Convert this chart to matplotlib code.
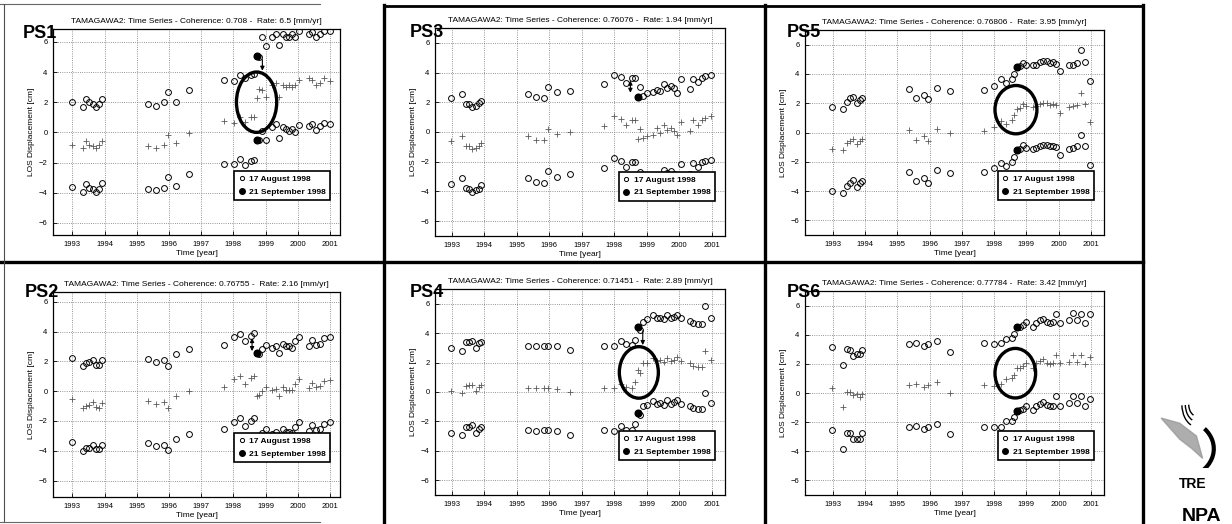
import matplotlib
matplotlib.use("Agg")
import matplotlib.pyplot as plt
from matplotlib.patches import Ellipse, Arc
from matplotlib.lines import Line2D

plt.rcParams['font.family'] = ['Liberation Sans', 'DejaVu Sans']

# acquisition dates (decimal years), shared by all six points
dates = [1992.98, 1993.32, 1993.43, 1993.53, 1993.64, 1993.74, 1993.84, 1993.92,
         1995.35, 1995.59, 1995.84, 1995.96, 1996.23, 1996.63,
         1997.70, 1998.01, 1998.22, 1998.37, 1998.55, 1998.63, 1998.72, 1998.81, 1998.90, 1999.00,
         1999.21, 1999.31, 1999.42, 1999.53, 1999.64, 1999.74, 1999.83, 1999.92, 2000.05,
         2000.34, 2000.44, 2000.58, 2000.70, 2000.81, 2000.99]
quake_date = 1998.72   # 21 September 1998

ps1_up = [1.98, 1.67, 2.22, 2.0, 1.89, 1.67, 1.89, 2.2,
          1.87, 1.76, 1.98, 2.68, 2.0, 2.79,
          3.47, 3.43, 3.82, 3.6, 3.8, 3.87, 5.05, 5.0, 6.29, 5.71,
          6.29, 6.55, 5.82, 6.5, 6.29, 6.29, 6.5, 6.29, 6.73,
          6.55, 6.66, 6.29, 6.55, 6.73, 6.73]
ps1_mid = [-0.81, -1.03, -0.6, -0.81, -0.92, -1.03, -0.86, -0.6,
           -0.92, -1.03, -0.81, -0.15, -0.7, -0.04,
           0.73, 0.62, 1.05, 0.66, 1.0, 1.05, 2.26, 2.86, 2.8, 2.33,
           3.14, 3.25, 2.37, 3.14, 3.0, 3.14, 3.0, 3.14, 3.47,
           3.58, 3.47, 3.14, 3.3, 3.58, 3.4]
ps1_low = [-3.63, -3.96, -3.45, -3.67, -3.74, -3.96, -3.74, -3.34,
           -3.74, -3.82, -3.67, -2.95, -3.56, -2.73,
           -2.07, -2.09, -1.76, -2.13, -1.87, -1.8, -0.48, -0.5, 0.11, -0.48,
           0.35, 0.57, -0.37, 0.35, 0.2, 0.11, 0.22, 0.02, 0.5,
           0.44, 0.57, 0.18, 0.4, 0.62, 0.57]

ps2_up = [2.22, 1.71, 1.89, 1.93, 2.07, 1.78, 1.78, 2.07,
          2.16, 1.98, 2.07, 1.71, 2.52, 2.83,
          3.12, 3.64, 3.84, 3.39, 3.69, 3.91, 2.56, 2.5, 2.83, 3.12,
          2.9, 3.0, 2.56, 3.17, 3.0, 3.0, 2.9, 3.35, 3.64,
          3.06, 3.42, 3.12, 3.19, 3.57, 3.64]
ps2_mid = [-0.55, -1.15, -1.0, -0.95, -0.75, -1.05, -1.1, -0.8,
           -0.65, -0.85, -0.75, -1.1, -0.35, 0.0,
           0.3, 0.8, 1.0, 0.5, 0.85, 1.0, -0.3, -0.25, 0.0, 0.25,
           0.05, 0.15, -0.3, 0.3, 0.1, 0.1, 0.05, 0.5, 0.8,
           0.2, 0.55, 0.25, 0.35, 0.7, 0.75]
ps2_low = [-3.44, -4.0, -3.84, -3.78, -3.62, -3.87, -3.87, -3.64,
           -3.51, -3.69, -3.62, -3.96, -3.19, -2.88,
           -2.56, -2.04, -1.82, -2.31, -1.98, -1.82, -3.17, -3.06, -2.83, -2.54,
           -2.85, -2.75, -3.15, -2.55, -2.75, -2.75, -2.8, -2.4, -2.1,
           -2.7, -2.3, -2.6, -2.55, -2.2, -2.1]

ps3_up = [2.27, 2.56, 1.87, 1.91, 1.66, 1.78, 1.93, 2.09,
          2.58, 2.34, 2.31, 3.06, 2.72, 2.79,
          3.21, 3.87, 3.73, 3.28, 3.66, 3.66, 2.38, 3.06, 2.43, 2.6,
          2.67, 2.83, 2.75, 3.2, 2.98, 3.1, 2.95, 2.65, 3.57,
          2.9, 3.6, 3.35, 3.66, 3.75, 3.82]
ps3_mid = [-0.6, -0.25, -0.95, -0.97, -1.15, -1.05, -0.95, -0.75,
           -0.27, -0.52, -0.55, 0.2, -0.13, -0.03,
           0.4, 1.07, 0.9, 0.5, 0.8, 0.8, -0.45, 0.2, -0.4, -0.25,
           -0.2, 0.3, -0.1, 0.5, 0.15, 0.3, 0.1, -0.2, 0.7,
           0.05, 0.8, 0.5, 0.8, 0.95, 1.05]
ps3_low = [-3.5, -3.08, -3.8, -3.84, -4.02, -3.91, -3.84, -3.57,
           -3.12, -3.39, -3.42, -2.63, -3.01, -2.85,
           -2.45, -1.78, -1.93, -2.34, -2.0, -2.05, -3.3, -2.67, -3.24, -3.1,
           -3.05, -2.9, -2.98, -2.55, -2.75, -2.65, -2.8, -3.05, -2.15,
           -2.8, -2.1, -2.35, -2.05, -1.95, -1.88]

ps4_up = [3.0, 2.77, 3.41, 3.41, 3.48, 3.0, 3.3, 3.41,
          3.11, 3.11, 3.14, 3.11, 3.11, 2.84,
          3.11, 3.11, 3.48, 3.25, 3.18, 3.52, 4.43, 4.2, 4.77, 4.93,
          5.2, 5.0, 5.05, 4.95, 5.22, 5.0, 5.1, 5.25, 5.0,
          4.82, 4.66, 4.6, 4.6, 5.86, 5.05]
ps4_mid = [0.1, -0.07, 0.4, 0.45, 0.5, 0.05, 0.35, 0.5,
           0.3, 0.25, 0.25, 0.25, 0.2, 0.0,
           0.25, 0.25, 0.55, 0.35, 0.3, 0.7, 1.5, 1.3, 1.95, 2.0,
           2.3, 2.1, 2.15, 2.05, 2.3, 2.1, 2.2, 2.35, 2.1,
           1.95, 1.75, 1.7, 1.7, 2.8, 2.2]
ps4_low = [-2.77, -2.95, -2.39, -2.39, -2.27, -2.77, -2.5, -2.39,
           -2.61, -2.66, -2.61, -2.61, -2.64, -2.89,
           -2.61, -2.64, -2.32, -2.55, -2.55, -2.2, -1.41, -1.55, -0.95, -0.9,
           -0.6, -0.8, -0.75, -0.85, -0.55, -0.8, -0.7, -0.55, -0.8,
           -0.95, -1.1, -1.15, -1.15, -0.05, -0.75]

ps5_up = [1.75, 1.6, 2.11, 2.34, 2.45, 2.04, 2.22, 2.38,
          2.99, 2.34, 2.56, 2.27, 3.06, 2.83,
          2.9, 3.17, 3.62, 3.39, 3.66, 4.02, 4.45, 4.52, 4.74, 4.63,
          4.58, 4.63, 4.79, 4.85, 4.85, 4.74, 4.79, 4.7, 4.18,
          4.61, 4.61, 4.74, 5.6, 4.83, 3.51]
ps5_mid = [-1.1, -1.2, -0.7, -0.55, -0.45, -0.8, -0.6, -0.45,
           0.18, -0.5, -0.25, -0.6, 0.25, 0.0,
           0.1, 0.4, 0.8, 0.55, 0.85, 1.2, 1.6, 1.7, 1.95, 1.8,
           1.75, 1.8, 1.95, 2.0, 2.0, 1.9, 1.95, 1.85, 1.35,
           1.75, 1.8, 1.9, 2.7, 1.95, 0.7]
ps5_low = [-3.98, -4.13, -3.64, -3.42, -3.24, -3.69, -3.46, -3.3,
           -2.67, -3.3, -3.08, -3.42, -2.58, -2.79,
           -2.72, -2.45, -2.07, -2.27, -2.0, -1.66, -1.21, -1.15, -0.88, -1.03,
           -1.1, -1.05, -0.95, -0.85, -0.85, -0.95, -0.9, -1.0, -1.55,
           -1.1, -1.05, -0.95, -0.2, -0.9, -2.2]

ps6_up = [3.16, 1.89, 3.0, 2.93, 2.55, 2.68, 2.68, 2.93,
          3.36, 3.4, 3.2, 3.36, 3.6, 2.84,
          3.4, 3.36, 3.4, 3.73, 3.77, 4.02, 4.5, 4.55, 4.66, 4.89,
          4.55, 4.77, 5.0, 5.11, 4.89, 4.77, 4.89, 5.45, 4.82,
          5.0, 5.5, 5.0, 5.45, 4.82, 5.39]
ps6_mid = [0.32, -0.95, 0.1, 0.05, -0.15, -0.1, -0.3, -0.05,
           0.55, 0.6, 0.4, 0.55, 0.75, 0.0,
           0.55, 0.5, 0.6, 0.95, 1.0, 1.25, 1.7, 1.7, 1.85, 2.05,
           1.7, 2.05, 2.2, 2.3, 2.05, 2.0, 2.05, 2.6, 2.05,
           2.15, 2.6, 2.15, 2.6, 2.0, 2.5]
ps6_low = [-2.55, -3.82, -2.73, -2.77, -3.14, -3.18, -3.18, -2.77,
           -2.32, -2.27, -2.45, -2.32, -2.11, -2.84,
           -2.32, -2.32, -2.32, -1.95, -1.89, -1.64, -1.25, -1.14, -1.07, -0.86,
           -1.14, -0.91, -0.73, -0.64, -0.8, -0.91, -0.86, -0.23, -0.91,
           -0.68, -0.18, -0.68, -0.23, -0.86, -0.39]

coherence = {'PS1': '0.708', 'PS2': '0.76755', 'PS3': '0.76076',
             'PS4': '0.71451', 'PS5': '0.76806', 'PS6': '0.77784'}
rate = {'PS1': '6.5', 'PS2': '2.16', 'PS3': '1.94',
        'PS4': '2.89', 'PS5': '3.95', 'PS6': '3.42'}
series = {'PS1': (ps1_up, ps1_mid, ps1_low), 'PS2': (ps2_up, ps2_mid, ps2_low),
          'PS3': (ps3_up, ps3_mid, ps3_low), 'PS4': (ps4_up, ps4_mid, ps4_low),
          'PS5': (ps5_up, ps5_mid, ps5_low), 'PS6': (ps6_up, ps6_mid, ps6_low)}

# highlighted zone (centre x, centre y, width, height) and arrows (x, from, to, style)
ellipses = {'PS1': (1998.72, 2.0, 1.25, 4.0), 'PS4': (1998.76, 1.33, 1.2, 3.5),
            'PS5': (1998.68, 1.56, 1.3, 3.3), 'PS6': (1998.66, 1.36, 1.26, 3.4)}
arrows = {'PS1': (1998.9, 5.0, 3.9, '-|>'), 'PS2': (1998.58, 2.5, 3.75, '<|-|>'),
          'PS3': (1998.5, 2.45, 3.65, '<|-|>'), 'PS4': (1998.88, 4.35, 3.0, '-|>')}

W, H = 1232, 524
fig = plt.figure(figsize=(W / 100, H / 100), dpi=100)

# axes boxes in pixels: left, top, right, bottom ; x/y limits ; label anchor
layout = {
    'PS1': ((53, 29, 340, 235), (1992.4, 2001.31), (-6.8, 6.85), (23, 38)),
    'PS3': ((435, 28, 725, 236), (1992.49, 2001.41), (-7, 7), (410, 37)),
    'PS5': ((805, 30, 1104, 235), (1992.14, 2001.41), (-7, 7), (787, 37)),
    'PS2': ((53, 292, 340, 497), (1992.4, 2001.31), (-7.1, 6.65), (25, 297)),
    'PS4': ((435, 289, 725, 495), (1992.49, 2001.41), (-7, 7), (410, 297)),
    'PS6': ((805, 291, 1104, 495), (1992.14, 2001.41), (-7, 7), (787, 297)),
}

for name, (box, xl, yl, lab) in layout.items():
    l, t, r, b = box
    ax = fig.add_axes([l / W, 1 - b / H, (r - l) / W, (b - t) / H])
    up, mid, low = series[name]
    ax.plot(dates, up, 'o', ls='', mfc='none', mec='k', ms=4.2, mew=0.7)
    ax.plot(dates, low, 'o', ls='', mfc='none', mec='k', ms=4.2, mew=0.7)
    ax.plot(dates, mid, '+', ls='', color='0.35', ms=4, mew=0.6)
    qi = dates.index(quake_date)
    ax.plot([dates[qi], dates[qi]], [up[qi], low[qi]], 'o', ls='', color='k', ms=4.8)

    if name in ellipses:
        cx, cy, ew, eh = ellipses[name]
        ax.add_patch(Ellipse((cx, cy), ew, eh, fill=False, ec='k', lw=2.4, zorder=5))
    if name in arrows:
        axx, y0, y1, st = arrows[name]
        ax.annotate('', xy=(axx, y1), xytext=(axx, y0),
                    arrowprops=dict(arrowstyle=st, color='k', lw=0.8, mutation_scale=6))

    ax.set_xlim(xl)
    ax.set_ylim(yl)
    ax.set_xticks(range(1993, 2002))
    ax.set_yticks([-6, -4, -2, 0, 2, 4, 6])
    ax.tick_params(direction='in', length=3, labelsize=5.5, width=0.6, pad=4)
    ax.grid(True, ls=':', color='0.45', lw=0.6)
    for s in ax.spines.values():
        s.set_linewidth(0.9)
    ax.set_title('TAMAGAWA2: Time Series - Coherence: %s -  Rate: %s [mm/yr]'
                 % (coherence[name], rate[name]), fontsize=6, pad=4)
    ax.set_xlabel('Time [year]', fontsize=6, labelpad=2)
    ax.set_ylabel('LOS Displacement [cm]', fontsize=6, labelpad=3)

    handles = [Line2D([], [], marker='o', ls='', mfc='none', mec='k', ms=3, mew=0.7),
               Line2D([], [], marker='o', ls='', color='k', ms=4)]
    leg = ax.legend(handles, ['17 August 1998', '21 September 1998'], loc='lower right',
                    bbox_to_anchor=(0.965, 0.17), borderaxespad=0, fancybox=False,
                    prop={'weight': 'bold', 'size': 6}, handlelength=0.8,
                    handletextpad=0.5, labelspacing=0.6, borderpad=0.5)
    leg.get_frame().set_edgecolor('k')
    leg.get_frame().set_linewidth(1.2)
    leg.get_frame().set_alpha(1)

    fig.text(lab[0] / W, 1 - lab[1] / H, name, fontsize=13, fontweight='bold',
             ha='left', va='baseline')

# panel frames
def frame(x0, y0, x1, y1, lw, color='k'):
    fig.add_artist(Line2D([x0 / W, x1 / W], [1 - y0 / H, 1 - y1 / H], lw=lw, color=color))

frame(384, 5, 384, 524, 2.4)
frame(765, 5, 765, 524, 2.4)
frame(1143, 5, 1143, 524, 2.4)
frame(0, 262, 1143, 262, 2.4)
frame(384, 6, 1143, 6, 2.0)
frame(0, 4, 320, 4, 0.8, '0.4')
frame(4, 4, 4, 522, 0.8, '0.3')
frame(0, 522, 320, 522, 0.8, '0.4')

# logo
lax = fig.add_axes([1158 / W, 1 - 468 / H, 62 / W, 64 / H])
lax.set_xlim(0, 1)
lax.set_ylim(0, 1)
lax.axis('off')
for rr in [0.25, 0.36, 0.47]:
    lax.add_patch(Arc((0.62, 1.0), rr, rr * 1.5, theta1=185, theta2=255, lw=1.0, color='k'))
lax.fill([0.05, 0.35, 0.62, 0.72, 0.55, 0.35], [0.78, 0.7, 0.5, 0.15, 0.3, 0.45],
         color='0.6', alpha=0.8)
lax.add_patch(Arc((0.3, 0.3), 1.2, 0.95, theta1=-60, theta2=35, lw=3, color='k'))
fig.text(1193 / W, 1 - 488 / H, 'TRE', fontsize=10, fontweight='heavy', ha='center', va='baseline')
fig.text(1202 / W, 1 - 521 / H, 'NPA', fontsize=14, fontweight='heavy', ha='center', va='baseline')

fig.savefig('out.png', dpi=100)
